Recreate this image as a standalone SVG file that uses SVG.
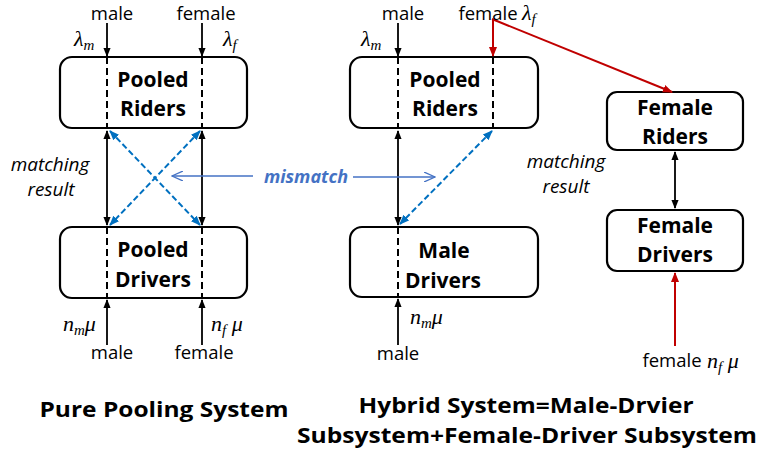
<svg xmlns="http://www.w3.org/2000/svg" width="760" height="459" viewBox="0 0 760 459">
<defs>
<marker id="ah" viewBox="0 0 10 10" refX="9" refY="5" markerWidth="5" markerHeight="5" orient="auto-start-reverse"><path d="M0,1 L10,5 L0,9 Z" fill="#000"/></marker>
<marker id="ahr" viewBox="0 0 10 10" refX="9" refY="5" markerWidth="5" markerHeight="5" orient="auto-start-reverse"><path d="M0,1 L10,5 L0,9 Z" fill="#c00000"/></marker>
<marker id="ahb" viewBox="0 0 10 10" refX="9" refY="5" markerWidth="5" markerHeight="5" orient="auto-start-reverse"><path d="M0,1 L10,5 L0,9 Z" fill="#0070c0"/></marker>
<marker id="ahl" viewBox="0 0 12 10" refX="11" refY="5" markerWidth="8" markerHeight="7" orient="auto-start-reverse"><path d="M0,0 L11,5 L0,10" fill="none" stroke="#4472c4" stroke-width="1.3"/></marker>
</defs>
<style>
.box{fill:#fff;stroke:#000;stroke-width:2.2}
.dash{stroke:#000;stroke-width:2;stroke-dasharray:7,4;fill:none}
.blk{stroke:#000;stroke-width:1.8;fill:none}
.red{stroke:#c00000;stroke-width:2;fill:none}
.bd{stroke:#0070c0;stroke-width:2;stroke-dasharray:6,3;fill:none}
.bl{stroke:#4472c4;stroke-width:1.5;fill:none}
.lbl{font-family:"Open Sans","Noto Sans",sans-serif;font-size:21px;font-weight:bold;fill:#000;text-anchor:middle}
.t{font-family:"Open Sans","Noto Sans",sans-serif;font-size:18.5px;fill:#000;text-anchor:middle}
.it{font-family:"Open Sans","Noto Sans",sans-serif;font-size:19px;font-style:italic;fill:#000;text-anchor:middle}
.m{font-family:"Liberation Serif","DejaVu Serif",serif;font-size:22px;font-style:italic;fill:#000}
.sub{font-size:15px}
.title{font-family:"Open Sans","Noto Sans",sans-serif;font-size:21px;font-weight:bold;fill:#000;text-anchor:middle}
</style>

<g id="pooled-riders-left">
<rect class="box" x="60" y="57" width="187" height="71" rx="12"/>
<line class="dash" x1="107" y1="57" x2="107" y2="128"/>
<line class="dash" x1="202" y1="57" x2="202" y2="128"/>
<text class="lbl" x="153" y="87">Pooled</text>
<text class="lbl" x="153" y="116">Riders</text>
</g>
<g id="pooled-drivers-left">
<rect class="box" x="60" y="227" width="187" height="71" rx="12"/>
<line class="dash" x1="107" y1="227" x2="107" y2="298"/>
<line class="dash" x1="202" y1="227" x2="202" y2="298"/>
<text class="lbl" x="153" y="257">Pooled</text>
<text class="lbl" x="153" y="287">Drivers</text>
</g>
<g id="pooled-riders-mid">
<rect class="box" x="350" y="57" width="188" height="71" rx="12"/>
<line class="dash" x1="398" y1="57" x2="398" y2="128"/>
<line class="dash" x1="493" y1="57" x2="493" y2="128"/>
<text class="lbl" x="445" y="87">Pooled</text>
<text class="lbl" x="445" y="116">Riders</text>
</g>
<g id="male-drivers">
<rect class="box" x="350" y="227" width="188" height="70" rx="12"/>
<line class="dash" x1="398" y1="227" x2="398" y2="297"/>
<text class="lbl" x="444" y="258">Male</text>
<text class="lbl" x="443" y="288">Drivers</text>
</g>
<g id="female-riders">
<rect class="box" x="607" y="92" width="136" height="58" rx="10"/>
<text class="lbl" x="675" y="115">Female</text>
<text class="lbl" x="675" y="144">Riders</text>
</g>
<g id="female-drivers">
<rect class="box" x="607" y="210" width="136" height="61" rx="10"/>
<text class="lbl" x="675" y="233">Female</text>
<text class="lbl" x="675" y="262">Drivers</text>
</g>

<g id="connectors">
<line class="blk" x1="107" y1="23" x2="107" y2="56" marker-end="url(#ah)"/>
<line class="blk" x1="202" y1="23" x2="202" y2="56" marker-end="url(#ah)"/>
<line class="blk" x1="107" y1="131" x2="107" y2="225" marker-start="url(#ah)" marker-end="url(#ah)"/>
<line class="blk" x1="202" y1="131" x2="202" y2="225" marker-start="url(#ah)" marker-end="url(#ah)"/>
<line class="bd" x1="110" y1="131" x2="200" y2="225" marker-start="url(#ahb)" marker-end="url(#ahb)"/>
<line class="bd" x1="200" y1="131" x2="110" y2="225" marker-start="url(#ahb)" marker-end="url(#ahb)"/>
<line class="blk" x1="107" y1="345" x2="107" y2="300" marker-end="url(#ah)"/>
<line class="blk" x1="202" y1="345" x2="202" y2="300" marker-end="url(#ah)"/>

<line class="blk" x1="398" y1="23" x2="398" y2="56" marker-end="url(#ah)"/>
<line class="red" x1="493" y1="19" x2="493" y2="56" marker-end="url(#ahr)"/>
<polyline class="red" points="492,19 672,92" marker-end="url(#ahr)"/>
<line class="blk" x1="398" y1="131" x2="398" y2="225" marker-start="url(#ah)" marker-end="url(#ah)"/>
<line class="bd" x1="492" y1="131" x2="400" y2="224" marker-start="url(#ahb)" marker-end="url(#ahb)"/>
<line class="blk" x1="398" y1="345" x2="398" y2="299" marker-end="url(#ah)"/>

<line class="blk" x1="675" y1="152" x2="675" y2="208" marker-start="url(#ah)" marker-end="url(#ah)"/>
<line class="red" x1="675" y1="346" x2="675" y2="273" marker-end="url(#ahr)"/>

<line class="bl" x1="253" y1="176" x2="172" y2="176" marker-end="url(#ahl)"/>
<line class="bl" x1="353" y1="177" x2="435" y2="177" marker-end="url(#ahl)"/>
</g>

<g id="labels">
<text class="t" x="112" y="20">male</text>
<text class="t" x="206" y="20">female</text>
<text class="m" x="74" y="46">λ<tspan class="sub" dy="4">m</tspan></text>
<text class="m" x="223" y="46">λ<tspan class="sub" dy="4">f</tspan></text>
<text class="it" x="50" y="171">matching</text>
<text class="it" x="51" y="196">result</text>
<text class="m" x="63" y="331">n<tspan class="sub" dy="4">m</tspan><tspan dy="-4">μ</tspan></text>
<text class="m" x="211" y="331">n<tspan class="sub" dy="4">f</tspan><tspan dy="-4"> μ</tspan></text>
<text class="t" x="112" y="359">male</text>
<text class="t" x="204" y="359">female</text>

<text class="t" x="488" y="20">female</text>
<text class="m" x="522" y="20">λ<tspan class="sub" dy="4">f</tspan></text>
<text class="t" x="403" y="20">male</text>
<text class="m" x="361" y="46">λ<tspan class="sub" dy="4">m</tspan></text>
<text class="m" x="410" y="324">n<tspan class="sub" dy="4">m</tspan><tspan dy="-4">μ</tspan></text>
<text class="t" x="398" y="360">male</text>

<text class="it" x="566" y="168">matching</text>
<text class="it" x="566" y="193">result</text>
<text class="t" x="672" y="367">female</text>
<text class="m" x="707" y="368">n<tspan class="sub" dy="4">f</tspan><tspan dy="-4"> μ</tspan></text>

<text x="306" y="183" style="font-family:'Open Sans','Noto Sans',sans-serif;font-size:18px;font-weight:bold;font-style:italic;fill:#4472c4;text-anchor:middle">mismatch</text>

<text class="title" x="164" y="417" textLength="249" lengthAdjust="spacingAndGlyphs">Pure Pooling System</text>
<text class="title" x="526" y="413" textLength="335" lengthAdjust="spacingAndGlyphs">Hybrid System=Male-Drvier</text>
<text class="title" x="527" y="443" textLength="460" lengthAdjust="spacingAndGlyphs">Subsystem+Female-Driver Subsystem</text>
</g>
</svg>
